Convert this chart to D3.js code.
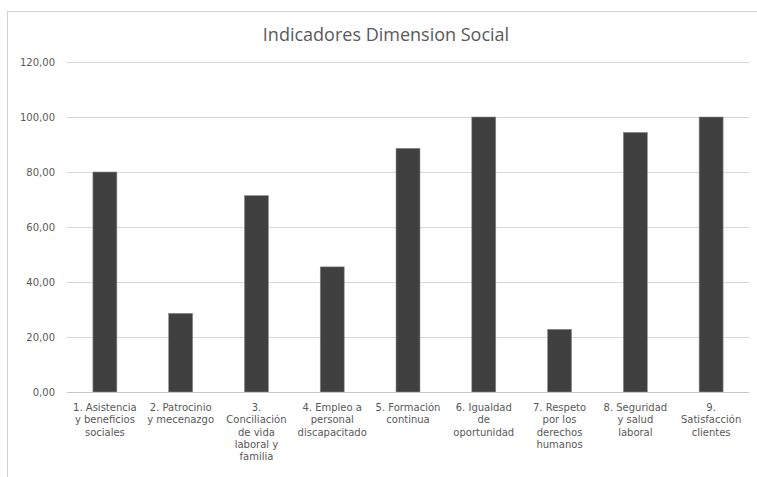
<!DOCTYPE html>
<html>
<head>
<meta charset="utf-8">
<script src="https://cdn.jsdelivr.net/npm/d3@7"></script>
<style>
  html, body { margin: 0; padding: 0; background: #fff; }
  svg { display: block; }
</style>
</head>
<body>
<svg id="chart" width="757" height="477"></svg>
<script>
// Indicator categories
const categories = [
  "1. Asistencia y beneficios sociales",
  "2. Patrocinio y mecenazgo",
  "3. Conciliación de vida laboral y familia",
  "4. Empleo a personal discapacitado",
  "5. Formación continua",
  "6. Igualdad de oportunidad",
  "7. Respeto por los derechos humanos",
  "8. Seguridad y salud laboral",
  "9. Satisfacción clientes"
];
// The same labels, split into their wrapped lines
const labelLines = [
  ["1. Asistencia", "y beneficios", "sociales"],
  ["2. Patrocinio", "y mecenazgo"],
  ["3.", "Conciliación", "de vida", "laboral y", "familia"],
  ["4. Empleo a", "personal", "discapacitado"],
  ["5. Formación", "continua"],
  ["6. Igualdad", "de", "oportunidad"],
  ["7. Respeto", "por los", "derechos", "humanos"],
  ["8. Seguridad", "y salud", "laboral"],
  ["9.", "Satisfacción", "clientes"]
];
// Score per indicator
const values = [80.0, 28.6, 71.4, 45.5, 88.6, 100.0, 22.8, 94.4, 100.0];
// Value axis ticks
const yTicks = [0, 20, 40, 60, 80, 100, 120];

const svg = d3.select("#chart");
const W = 757, H = 477;
const plot = { left: 67, right: 749, top: 62, bottom: 392 };
const labelFont = "'DejaVu Sans', sans-serif";
const titleFont = "'Open Sans', sans-serif";
const textColor = "#595959";

// outer frame of the chart
svg.append("rect")
  .attr("x", 7.5).attr("y", 11.5)
  .attr("width", W + 20).attr("height", H + 20)
  .attr("fill", "#fff")
  .attr("stroke", "#d0d0d0")
  .attr("stroke-width", 1);

const x = d3.scaleBand()
  .domain(categories)
  .range([plot.left, plot.right])
  .paddingInner(0.684)
  .paddingOuter(0.342);

const y = d3.scaleLinear()
  .domain([0, 120])
  .range([plot.bottom, plot.top]);

const fmt = v => d3.format(".2f")(v).replace(".", ",");

// gridlines
svg.append("g")
  .selectAll("line")
  .data(yTicks.filter(t => t !== 0))
  .join("line")
  .attr("x1", plot.left).attr("x2", plot.right)
  .attr("y1", d => Math.round(y(d)) + 0.5)
  .attr("y2", d => Math.round(y(d)) + 0.5)
  .attr("stroke", "#d9d9d9")
  .attr("stroke-width", 1);

// y axis labels
const yAxis = svg.append("g")
  .attr("transform", `translate(${plot.left - 12},0)`)
  .call(d3.axisLeft(y).tickValues(yTicks).tickFormat(fmt).tickSize(0).tickPadding(0));
yAxis.select(".domain").remove();
yAxis.selectAll("text")
  .attr("font-family", labelFont)
  .attr("font-size", "10px")
  .attr("fill", textColor);

// bars
svg.append("g")
  .selectAll("rect")
  .data(values)
  .join("rect")
  .attr("x", (d, i) => x(categories[i]))
  .attr("width", x.bandwidth())
  .attr("y", d => y(d))
  .attr("height", d => y(0) - y(d))
  .attr("fill", "#404040")
  .attr("stroke", "#8a8a8a")
  .attr("stroke-width", 0.6);

// category axis line
svg.append("line")
  .attr("x1", plot.left).attr("x2", plot.right)
  .attr("y1", Math.round(y(0)) + 0.5).attr("y2", Math.round(y(0)) + 0.5)
  .attr("stroke", "#c8c8c8")
  .attr("stroke-width", 1);

// category labels, one text element per wrapped line
const xl = svg.append("g")
  .attr("font-family", labelFont)
  .attr("font-size", "10px")
  .attr("fill", textColor)
  .attr("text-anchor", "middle");
labelLines.forEach((lines, i) => {
  const cx = x(categories[i]) + x.bandwidth() / 2;
  xl.selectAll(null)
    .data(lines)
    .join("text")
    .attr("x", cx)
    .attr("y", (d, j) => 411 + j * 12.3)
    .text(d => d);
});

// title
svg.append("text")
  .attr("x", 386).attr("y", 41)
  .attr("text-anchor", "middle")
  .attr("font-family", titleFont)
  .attr("font-size", "18px")
  .attr("fill", textColor)
  .text("Indicadores Dimension Social");
</script>
</body>
</html>
